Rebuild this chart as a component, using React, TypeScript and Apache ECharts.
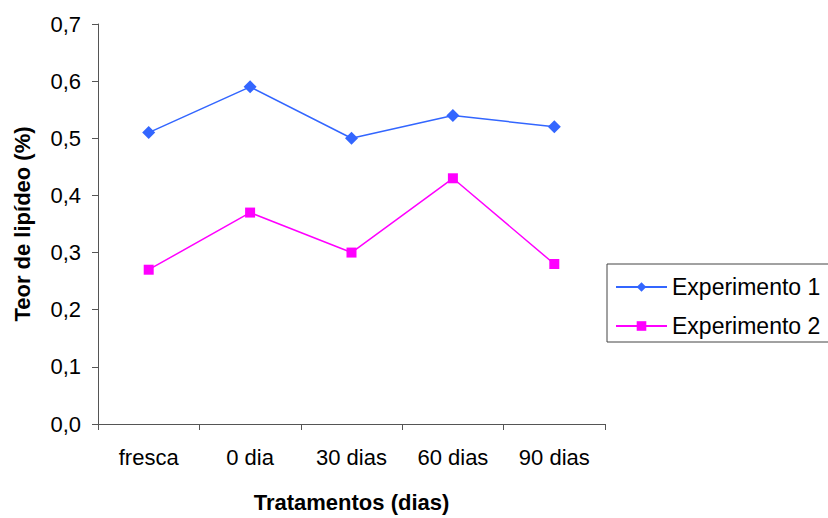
import React, { useEffect, useRef } from "react";
import * as echarts from "echarts";

const categories = ["fresca", "0 dia", "30 dias", "60 dias", "90 dias"];
const experimento1 = [0.51, 0.59, 0.5, 0.54, 0.52];
const experimento2 = [0.27, 0.37, 0.3, 0.43, 0.28];
const yTicks = { min: 0, max: 0.7, interval: 0.1 };

const FONT = "Liberation Sans, Arial, sans-serif";
const AXIS_COLOR = "#555";
const FS = 22;

export default function App() {
  const ref = useRef<HTMLDivElement>(null);
  useEffect(() => {
    if (!ref.current) return;
    const chart = echarts.init(ref.current, undefined, { renderer: "svg" });
    chart.setOption({
      animation: false,
      backgroundColor: "#fff",
      textStyle: { fontFamily: FONT, color: "#000" },
      grid: { left: 98, top: 24, right: 223, bottom: 90 },
      legend: {
        orient: "vertical",
        left: 607,
        top: 264,
        borderColor: "#444",
        borderWidth: 1,
        padding: [11, 40, 4, 8],
        itemGap: 15,
        itemWidth: 51,
        itemHeight: 12,
        textStyle: { fontFamily: FONT, fontSize: 23, color: "#000", lineHeight: 24 },
        data: ["Experimento 1", "Experimento 2"],
      },
      xAxis: {
        type: "category",
        data: categories,
        boundaryGap: true,
        name: "Tratamentos (dias)",
        nameLocation: "middle",
        nameGap: 67,
        nameTextStyle: { fontFamily: FONT, fontSize: FS, fontWeight: "bold", color: "#000" },
        axisLine: { lineStyle: { color: AXIS_COLOR, width: 1 } },
        axisTick: { show: true, length: 6, alignWithLabel: false, lineStyle: { color: AXIS_COLOR } },
        axisLabel: { fontFamily: FONT, fontSize: FS, color: "#000", margin: 22 },
        splitLine: { show: false },
      },
      yAxis: {
        type: "value",
        min: yTicks.min,
        max: yTicks.max,
        interval: yTicks.interval,
        name: "Teor de lipídeo (%)",
        nameLocation: "middle",
        nameGap: 65,
        nameRotate: 90,
        nameTextStyle: { fontFamily: FONT, fontSize: FS, fontWeight: "bold", color: "#000" },
        axisLine: { show: true, lineStyle: { color: AXIS_COLOR, width: 1 } },
        axisTick: { show: true, length: 6, lineStyle: { color: AXIS_COLOR } },
        axisLabel: {
          fontFamily: FONT,
          fontSize: FS,
          color: "#000",
          margin: 17,
          formatter: (v: number) => v.toFixed(1).replace(".", ","),
        },
        splitLine: { show: false },
      },
      series: [
        {
          name: "Experimento 1",
          type: "line",
          data: experimento1,
          symbol: "diamond",
          symbolSize: 13,
          lineStyle: { color: "#3366FF", width: 1.5 },
          itemStyle: { color: "#3366FF" },
        },
        {
          name: "Experimento 2",
          type: "line",
          data: experimento2,
          symbol: "rect",
          symbolSize: 10,
          lineStyle: { color: "#FF00FF", width: 1.5 },
          itemStyle: { color: "#FF00FF" },
        },
      ],
    });
    return () => chart.dispose();
  }, []);
  return <div ref={ref} style={{ width: 828, height: 518, position: "absolute", left: 0, top: 0 }} />;
}
